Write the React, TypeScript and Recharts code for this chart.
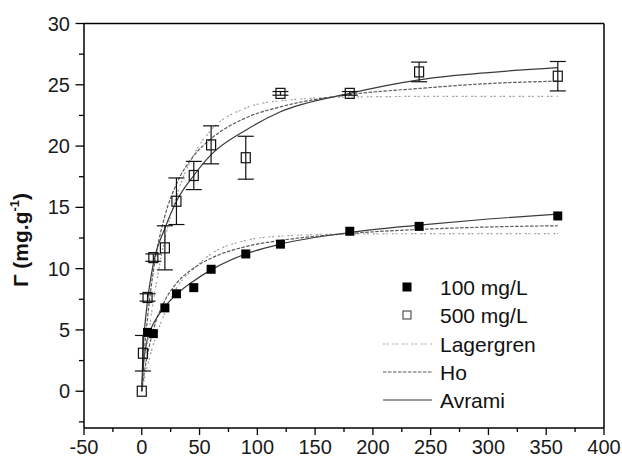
import React from 'react';
import { ComposedChart, Line, Scatter, XAxis, YAxis, ErrorBar, ReferenceLine, Legend } from 'recharts';

// measured points
const obsTime100 = [5, 10, 20, 30, 45, 60, 90, 120, 180, 240, 360];
const obsGamma100 = [4.8, 4.7, 6.8, 7.95, 8.45, 9.95, 11.2, 12.0, 13.05, 13.45, 14.3];

// 500 mg/L: the t=0 point has no error bar
const originTime500 = [0];
const originGamma500 = [0];
const obsTime500 = [1, 5, 10, 20, 30, 45, 60, 90, 120, 180, 240, 360];
const obsGamma500 = [3.1, 7.65, 10.9, 11.7, 15.5, 17.6, 20.1, 19.05, 24.3, 24.3, 26.05, 25.7];
const obsError500 = [1.45, 0.3, 0.3, 1.8, 1.9, 1.15, 1.55, 1.75, 0.15, 0.15, 0.8, 1.2];

// fitted curves
const fitTime = [0, 1, 2, 5, 10, 20, 30, 45, 60, 90, 120, 180, 240, 300, 360];
const lagergren100 = [0, 0.45, 0.9, 2.1, 3.8, 6.4, 8.4, 10.0, 11.2, 12.3, 12.65, 12.83, 12.85, 12.85, 12.85];
const ho100 = [0, 0.7, 1.4, 3.0, 5.0, 7.4, 8.8, 10.05, 10.85, 11.8, 12.3, 12.87, 13.2, 13.4, 13.5];
const avrami100 = [0, 1.8, 2.7, 4.3, 5.5, 6.9, 7.9, 9.0, 9.9, 11.2, 12.0, 12.95, 13.55, 14.05, 14.45];
const lagergren500 = [0, 0.85, 1.7, 4.0, 7.3, 12.4, 15.9, 19.3, 21.3, 23.1, 23.7, 24.0, 24.05, 24.05, 24.05];
const ho500 = [0, 1.5, 2.9, 6.0, 9.8, 14.3, 16.9, 19.2, 20.6, 22.3, 23.2, 24.2, 24.7, 25.1, 25.3];
const avrami500 = [0, 3.2, 4.6, 7.4, 10.4, 13.3, 15.5, 17.6, 19.3, 21.3, 22.8, 24.3, 25.4, 26.0, 26.4];

const xTicks = [-50, -25, 0, 25, 50, 75, 100, 125, 150, 175, 200, 225, 250, 275, 300, 325, 350, 375, 400];
const yTicks = [-2.5, 0, 2.5, 5, 7.5, 10, 12.5, 15, 17.5, 20, 22.5, 25, 27.5, 30];

const legendLabels = ['100 mg/L', '500 mg/L', 'Lagergren', 'Ho', 'Avrami'];

const FONT = 'Arial, "Liberation Sans", sans-serif';
const styles = {
    lagergren: { stroke: '#a0a0a0', dash: '2 1.5 2 4' },
    ho: { stroke: '#5a5a5a', dash: '3.5 1.5' },
    avrami: { stroke: '#3a3a3a', dash: undefined },
};

const toSeries = (xs: number[], ys: number[]) => xs.map((t, i) => ({ t, v: ys[i] }));

const data100 = toSeries(obsTime100, obsGamma100);
const origin500 = toSeries(originTime500, originGamma500);
const data500 = obsTime500.map((t, i) => ({ t, v: obsGamma500[i], err: obsError500[i] }));

const FilledSquare = (props: any) => {
    const { cx, cy } = props;
    return <rect x={cx - 4.5} y={cy - 4.5} width={9} height={9} fill="#000" />;
};

const OpenSquare = (props: any) => {
    const { cx, cy } = props;
    return <rect x={cx - 4.5} y={cy - 5} width={9} height={10} fill="none" stroke="#111" strokeWidth={1.2} />;
};

const XTick = (props: any) => {
    const { x, y, payload } = props;
    const major = payload.value % 50 === 0;
    return (
        <g>
            <line x1={x} x2={x} y1={y} y2={y + (major ? 7 : 4)} stroke="#000" strokeWidth={1.3} />
            {major && (
                <text x={x} y={y + 26} textAnchor="middle" fontSize={20} fontFamily={FONT} fill="#1a1a1a">
                    {payload.value}
                </text>
            )}
        </g>
    );
};

const YTick = (props: any) => {
    const { x, y, payload } = props;
    const major = payload.value % 5 === 0;
    return (
        <g>
            <line x1={x} x2={x - (major ? 8.5 : 5)} y1={y} y2={y} stroke="#000" strokeWidth={1.3} />
            {major && (
                <text x={x - 14} y={y + 7} textAnchor="end" fontSize={20} fontFamily={FONT} fill="#1a1a1a">
                    {payload.value}
                </text>
            )}
        </g>
    );
};

const YLabel = () => (
    <text
        x={0}
        y={0}
        transform="translate(28 240) rotate(-90)"
        textAnchor="middle"
        fontSize={21}
        fontWeight="bold"
        fontFamily={FONT}
        fill="#111"
    >
        Γ (mg.g
        <tspan dy={-9} fontSize={13}>-1</tspan>
        <tspan dy={9}>)</tspan>
    </text>
);

const renderLegend = () => {
    const rowY = [17, 45, 74, 102, 130];
    const lineStyles = [styles.lagergren, styles.ho, styles.avrami];
    return (
        <svg width={240} height={145} style={{ display: 'block' }}>
            {legendLabels.map((label, i) => (
                <g key={label}>
                    {i === 0 && <rect x={27.5} y={rowY[i] - 4.5} width={9} height={9} fill="#000" />}
                    {i === 1 && <rect x={28} y={rowY[i] - 4} width={8} height={8} fill="none" stroke="#333" strokeWidth={1} />}
                    {i > 1 && (
                        <line
                            x1={8}
                            x2={57}
                            y1={rowY[i]}
                            y2={rowY[i]}
                            stroke={lineStyles[i - 2].stroke}
                            strokeDasharray={lineStyles[i - 2].dash}
                            strokeWidth={1.2}
                        />
                    )}
                    <text x={65} y={rowY[i] + 7.5} fontSize={21} fontFamily={FONT} fill="#111">
                        {label}
                    </text>
                </g>
            ))}
        </svg>
    );
};

const curve = (key: string, values: number[], style: { stroke: string; dash?: string }) => (
    <Line
        key={key}
        data={toSeries(fitTime, values)}
        dataKey="v"
        type="monotone"
        stroke={style.stroke}
        strokeDasharray={style.dash}
        strokeWidth={1.2}
        dot={false}
        activeDot={false}
        isAnimationActive={false}
        legendType="none"
    />
);

export default function App() {
    return (
        <div style={{ position: 'absolute', left: 0, top: 0, width: 622, height: 459, background: '#fff' }}>
            <ComposedChart width={622} height={459} margin={{ top: 23.5, right: 18, bottom: 0, left: 0 }}>
                <XAxis
                    dataKey="t"
                    type="number"
                    domain={[-50, 400]}
                    ticks={xTicks}
                    interval={0}
                    allowDataOverflow
                    height={31}
                    tickSize={0}
                    tickMargin={0}
                    tickLine={false}
                    tick={<XTick />}
                    axisLine={{ stroke: '#000', strokeWidth: 1.5 }}
                />
                <YAxis
                    type="number"
                    domain={[-3, 30]}
                    ticks={yTicks}
                    interval={0}
                    allowDataOverflow
                    width={84}
                    tickSize={0}
                    tickMargin={0}
                    tickLine={false}
                    tick={<YTick />}
                    axisLine={{ stroke: '#000', strokeWidth: 1.5 }}
                    label={<YLabel />}
                />
                <ReferenceLine y={30} stroke="#000" strokeWidth={1.5} />
                <ReferenceLine x={400} stroke="#000" strokeWidth={1.5} />

                {curve('lag100', lagergren100, styles.lagergren)}
                {curve('ho100', ho100, styles.ho)}
                {curve('avr100', avrami100, styles.avrami)}
                {curve('lag500', lagergren500, styles.lagergren)}
                {curve('ho500', ho500, styles.ho)}
                {curve('avr500', avrami500, styles.avrami)}

                <Scatter data={data100} dataKey="v" shape={<FilledSquare />} isAnimationActive={false} />
                <Scatter data={origin500} dataKey="v" shape={<OpenSquare />} isAnimationActive={false} />
                <Scatter data={data500} dataKey="v" shape={<OpenSquare />} isAnimationActive={false}>
                    <ErrorBar dataKey="err" direction="y" width={8} stroke="#111" strokeWidth={1.2} />
                </Scatter>

                <Legend
                    layout="vertical"
                    align="center"
                    verticalAlign="middle"
                    content={renderLegend}
                    wrapperStyle={{ left: 375, top: 270, width: 240, height: 145 }}
                />
            </ComposedChart>
        </div>
    );
}
